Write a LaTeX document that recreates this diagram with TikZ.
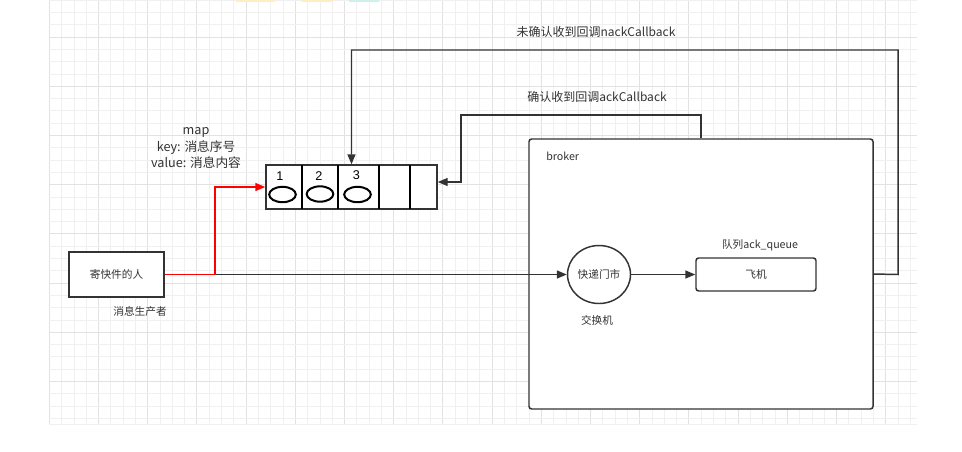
\documentclass[tikz,border=0pt]{standalone}
\usepackage{fontspec}
\setmainfont{Noto Sans CJK SC}
\newfontfamily\numfont{Liberation Sans}
\usetikzlibrary{arrows.meta,shapes.geometric,calc}
\definecolor{ink}{HTML}{333333}
\definecolor{gridminor}{HTML}{F0F0F0}
\definecolor{gridmajor}{HTML}{E2E2E2}
\definecolor{paleyellow}{HTML}{FFEEC4}
\definecolor{palecyan}{HTML}{CDF0EA}
\tikzset{
  conn/.style={draw=ink, line width=1.1pt, -{Triangle[length=7.5pt,width=6pt]}},
  plain/.style={draw=ink, line width=1.1pt},
  boxnode/.style={draw=ink, line width=1.1pt, fill=white, inner sep=0pt, font=\fontsize{8}{10}\selectfont, text=ink},
  lbl/.style={inner sep=0pt, text=ink, font=\fontsize{8}{10}\selectfont},
  biglbl/.style={inner sep=0pt, text=ink, font=\fontsize{9}{11}\selectfont},
  oval/.style={draw=black, line width=1.5pt, ellipse, minimum width=20pt, minimum height=11.5pt, inner sep=0pt},
  num/.style={inner sep=0pt, text=black, font=\numfont\fontsize{9.5}{10}\selectfont}
}
\begin{document}
\begin{tikzpicture}[x=0.75pt,y=-0.75pt]
\useasboundingbox (0,0) rectangle (962,451);
\fill[white] (0,0) rectangle (962,451);
% grid
\begin{scope}
\clip (49,0) rectangle (917,424);
\foreach \i in {0,...,70} {
  \pgfmathsetmacro{\xx}{49.3+12.3*\i}
  \pgfmathtruncatemacro{\m}{mod(\i,4)}
  \ifnum\m=0 \draw[gridmajor,line width=0.75pt] (\xx,0) -- (\xx,424);
  \else \draw[gridminor,line width=0.6pt] (\xx,0) -- (\xx,424); \fi
}
\foreach \j in {0,...,34} {
  \pgfmathsetmacro{\yy}{0.1+12.3*\j}
  \pgfmathtruncatemacro{\m}{mod(\j,4)}
  \ifnum\m=3 \draw[gridmajor,line width=0.75pt] (49,\yy) -- (917,\yy);
  \else \draw[gridminor,line width=0.6pt] (49,\yy) -- (917,\yy); \fi
}
\end{scope}
\draw[gridminor,line width=0.6pt] (49,424) -- (917,424);
% top colored remnants
\fill[paleyellow] (236,0) rectangle (275,1.5);
\fill[paleyellow] (302,0) rectangle (333,1.5);
\fill[palecyan] (349,0) rectangle (379,1.5);

% broker
\node[boxnode, rounded corners=2pt, minimum width=258pt, minimum height=202.5pt] (broker) at (701,274) {};
\node[lbl, anchor=west] (brokerlbl) at (546,156) {broker};

% producer
\node[boxnode, minimum width=71.25pt, minimum height=33.75pt] (producer) at (116.5,274.5) {寄快件的人};
\node[lbl] (producerlbl) at (140,311) {消息生产者};

% exchange
\node[boxnode, ellipse, minimum width=47.25pt, minimum height=43.5pt] (exchange) at (599,274.5) {快递门市};
\node[lbl] (exchangelbl) at (597,320.5) {交换机};

% queue
\node[boxnode, rounded corners=2pt, minimum width=90pt, minimum height=24.75pt] (queue) at (756,274.5) {飞机};
\node[lbl] (queuelbl) at (760,245) {队列ack\_queue};

% map queue
\node[boxnode, minimum width=128.25pt, minimum height=33pt] (mapq) at (351.5,187) {};
\foreach \d in {302,338,378.7,410} {
  \draw[black, line width=1.5pt] (\d,165) -- (\d,209);
}
\node[oval] (o1) at (282.5,194.5) {};
\node[oval] (o2) at (320,194) {};
\node[oval] (o3) at (357.5,194.5) {};
\node[num] (n1) at (280,176.5) {1};
\node[num] (n2) at (319,176) {2};
\node[num] (n3) at (356.5,175.5) {3};

% map label
\node[biglbl, align=center, font=\fontsize{9.5}{12.2}\selectfont] (maplbl) at (196,148) {map\\key: 消息序号\\value: 消息内容};

% connectors
\draw[conn] (producer.east) -- (exchange.west);
\draw[conn] (exchange.east) -- (queue.west);
\draw[conn, draw=red, -{Triangle[length=7.5pt,width=6pt,fill=red]}, red] (producer.east) -- (215,274.5) -- (215,187) -- (mapq.west);

\coordinate (nackr) at (898,274.5);
\draw[conn] (broker.east) -- (nackr) -- (898,50) -- (351.5,50) -- (mapq.north);
\node[biglbl] (nacklbl) at (596,32) {未确认收到回调nackCallback};

\coordinate (ackin) at ($(mapq.east)+(0,-5)$);
\draw[conn] (broker.north) -- (701,115) -- (461,115) -- (461,182) -- (ackin);
\node[biglbl] (acklbl) at (597,97) {确认收到回调ackCallback};
\end{tikzpicture}
\end{document}
